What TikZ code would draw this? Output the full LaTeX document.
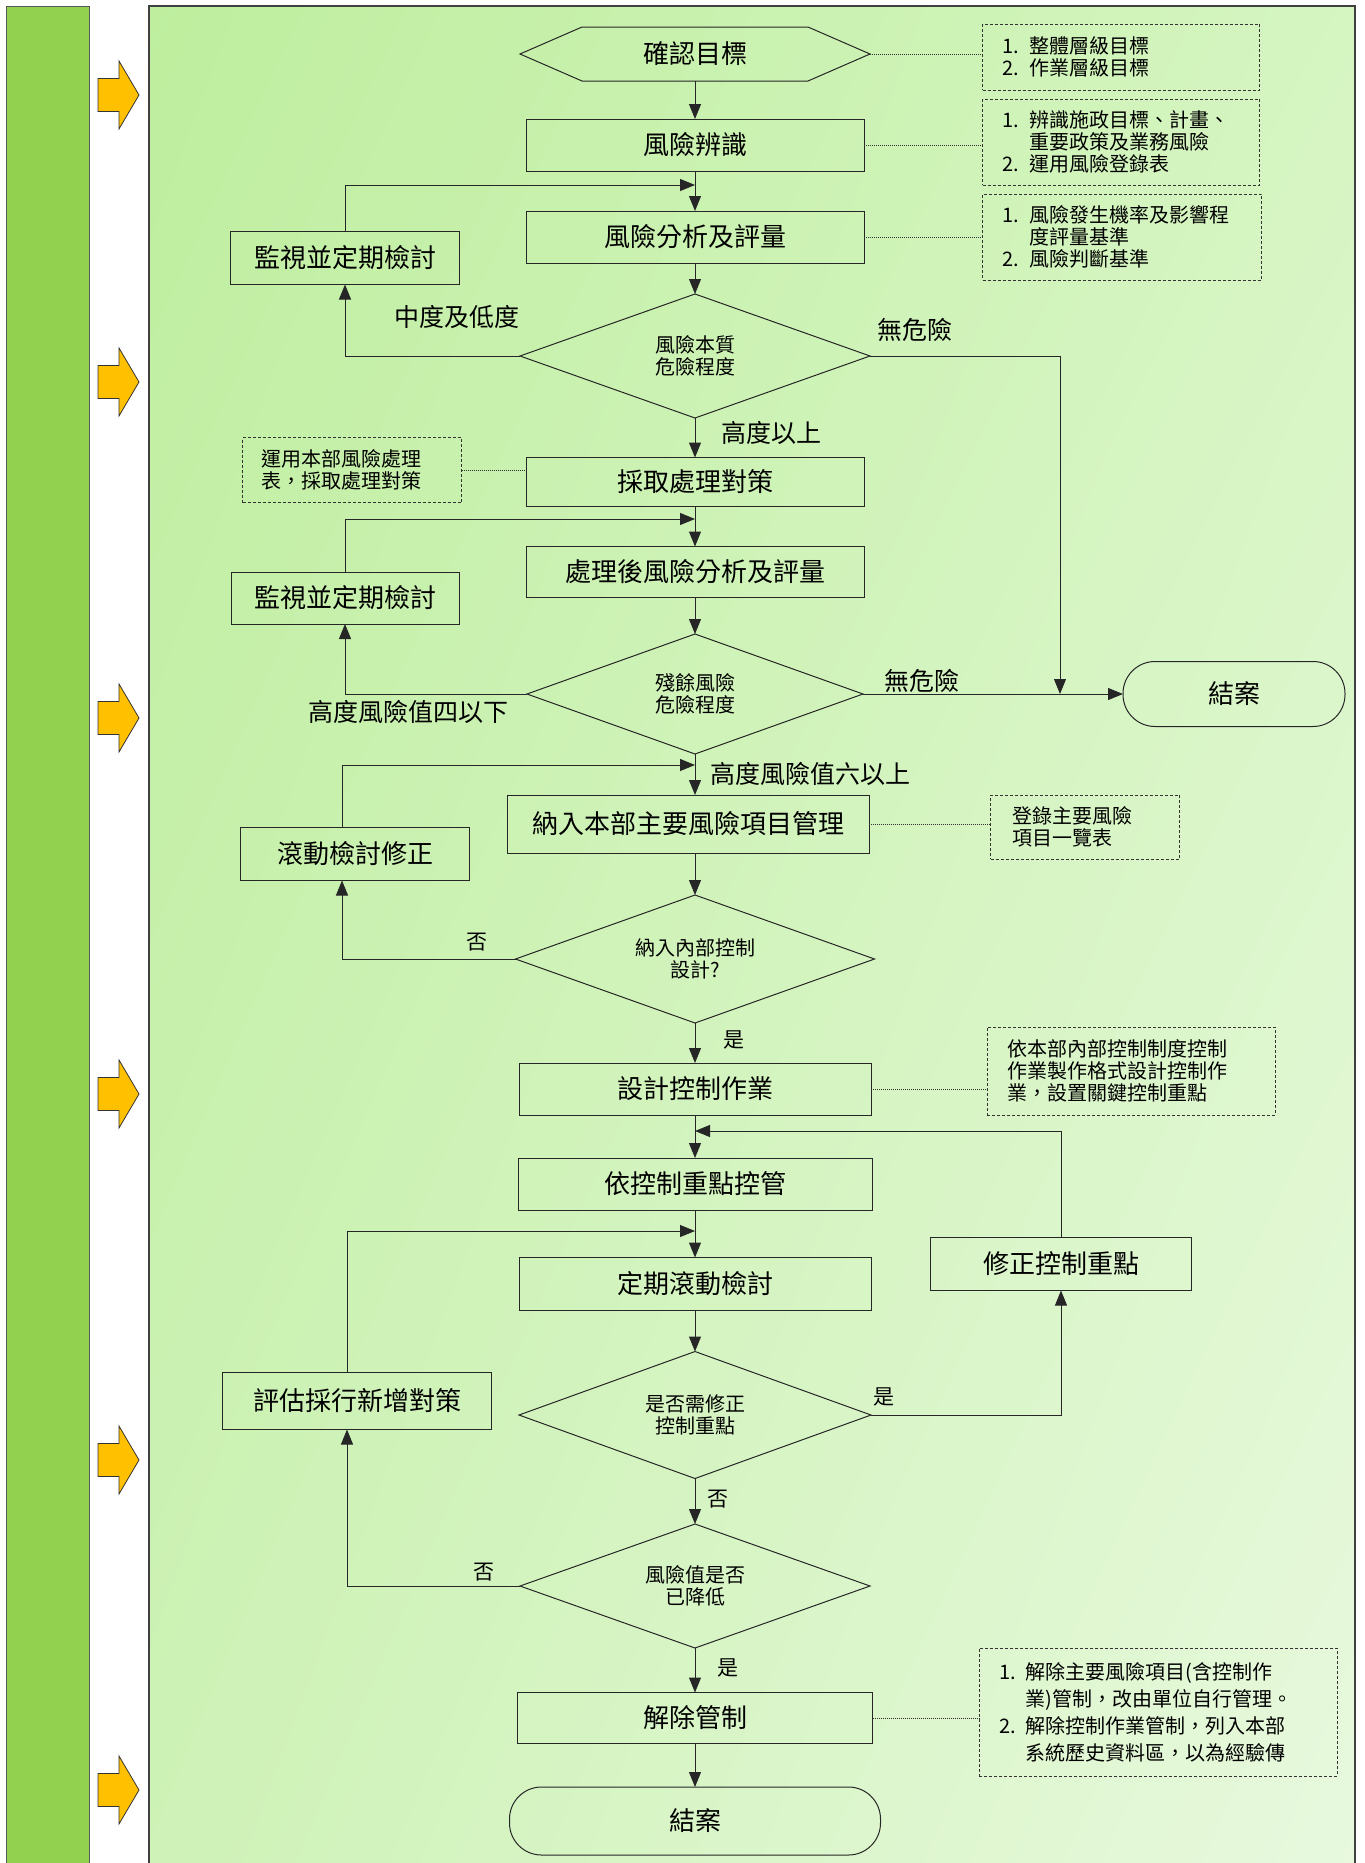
\documentclass[tikz,border=0pt]{standalone}
\usepackage{fontspec}
\setmainfont{Noto Sans CJK TC}
\usetikzlibrary{shapes.geometric}
\usetikzlibrary{arrows.meta}
\usetikzlibrary{shadings}
\usetikzlibrary{positioning}
\definecolor{bargreen}{RGB}{146,208,80}
\definecolor{arrowgold}{RGB}{255,192,0}
\definecolor{panelA}{RGB}{190,238,158}
\definecolor{panelB}{RGB}{213,245,193}
\definecolor{panelC}{RGB}{206,242,183}
\definecolor{panelD}{RGB}{232,249,222}

\begin{document}
\begin{tikzpicture}[x=1pt,y=-1pt,
        >={Triangle[length=15pt,width=12pt]},
        box/.style = {draw=black!85,line width=1pt,inner sep=0pt,outer sep=0pt,
            minimum width=338,minimum height=52,font=\fontsize{26}{30}\selectfont},
        hexa/.style = {inner sep=0pt,outer sep=0pt,minimum width=350,minimum height=54,
            font=\fontsize{26}{30}\selectfont},
        dia/.style = {draw=black!85,line width=1pt,diamond,aspect=2.8,inner sep=0pt,
            outer sep=0pt,align=center,font=\fontsize{20}{22}\selectfont},
        term/.style = {draw=black!85,line width=1pt,rounded corners=32pt,inner sep=0pt,
            outer sep=0pt,font=\fontsize{26}{30}\selectfont},
        note/.style = {draw=black!80,dash pattern=on 3pt off 2pt,line width=1pt,
            align=left,inner ysep=0pt,outer sep=0pt,font=\fontsize{20}{22}\selectfont},
        lab/.style = {inner sep=0pt,font=\fontsize{25}{28}\selectfont},
        yn/.style = {inner sep=0pt,font=\fontsize{21}{24}\selectfont},
        flow/.style = {->,draw=black!85,line width=1pt},
        link/.style = {draw=black!80,densely dotted,line width=1pt}]
    \useasboundingbox (0,0) rectangle (1365,1863);
    % background
    \begin{scope}
        \clip (0,0) rectangle (1365,1863);
        \fill[bargreen] (6,6) rectangle (89,1880);
        \draw[black!65,line width=1pt] (6,1880) -- (6,6) -- (89,6) -- (89,1880);
        \shade[upper left=panelA,upper right=panelB,lower left=panelC,lower right=panelD]
            (149,6) rectangle (1355,1880);
        \draw[black!75,line width=1.2pt] (149,1880) -- (149,6) -- (1355,6) -- (1355,1880);
    \end{scope}
    \foreach \c in {95,382,718,1094,1460,1790}
        \draw[black!80,fill=arrowgold,line width=0.8pt]
            (98,\c-16.5) -- (119,\c-16.5) -- (119,\c-34) -- (139,\c)
            -- (119,\c+34) -- (119,\c+16.5) -- (98,\c+16.5) -- cycle;

    % main column
    \node[hexa] (goal) at (695,54) {確認目標};
    \draw[draw=black!85,line width=1pt] (goal.west) -- ([xshift=62pt]goal.north west)
        -- ([xshift=-62pt]goal.north east) -- (goal.east)
        -- ([xshift=-62pt]goal.south east) -- ([xshift=62pt]goal.south west) -- cycle;
    \node[box] (ident) at (695,145) {風險辨識};
    \node[box] (anal) at (695,237) {風險分析及評量};
    \node[dia,minimum width=350,minimum height=124] (risk) at (695,356) {風險本質\\危險程度};
    \node[box,minimum height=49] (treat) at (695,482) {採取處理對策};
    \node[box,minimum height=51] (post) at (695,572) {處理後風險分析及評量};
    \node[dia,minimum width=336,minimum height=120] (resid) at (695,694) {殘餘風險\\危險程度};
    \node[box,minimum width=362,minimum height=58] (main) at (688,824) {納入本部主要風險項目管理};
    \node[dia,minimum width=359,minimum height=128] (ctrl) at (695,959) {納入內部控制\\設計?};
    \node[box,minimum width=352] (design) at (695,1089) {設計控制作業};
    \node[box,minimum width=354] (follow) at (695,1184) {依控制重點控管};
    \node[box,minimum width=352,minimum height=53] (review) at (695,1284) {定期滾動檢討};
    \node[dia,minimum width=352,minimum height=127] (need) at (695,1415) {是否需修正\\控制重點};
    \node[dia,minimum width=350,minimum height=124] (lower) at (695,1586) {風險值是否\\已降低};
    \node[box,minimum width=355,minimum height=51] (lift) at (695,1718) {解除管制};
    \node[term,minimum width=371,minimum height=68] (end2) at (695,1821) {結案};

    % side boxes
    \node[box,minimum width=229,minimum height=53] (mon1) at (345,258) {監視並定期檢討};
    \node[box,minimum width=228] (mon2) at (345,598) {監視並定期檢討};
    \node[box,minimum width=229,minimum height=53] (roll) at (355,854) {滾動檢討修正};
    \node[box,minimum width=261,minimum height=53] (fix) at (1061,1264) {修正控制重點};
    \node[box,minimum width=269,minimum height=57] (eval) at (357,1401) {評估採行新增對策};
    \node[term,minimum width=222,minimum height=65] (end1) at (1234,694) {結案};

    % notes
    \node[note,text width=237,inner xsep=20pt,minimum height=66] (n1) at (1121,57)
        {1. 整體層級目標\\2. 作業層級目標};
    \node[note,text width=237,inner xsep=20pt,minimum height=86] (n2) at (1121,142)
        {1. 辨識施政目標、計畫、\\\phantom{1. }重要政策及業務風險\\2. 運用風險登錄表};
    \node[note,text width=239,inner xsep=20pt,minimum height=86] (n3) at (1122,237)
        {1. 風險發生機率及影響程\\\phantom{1. }度評量基準\\2. 風險判斷基準};
    \node[note,text width=181,inner xsep=19pt,minimum height=65] (nL) at (352,470)
        {運用本部風險處理\\表，採取處理對策};
    \node[note,text width=145,inner xsep=22pt,minimum height=64] (n5) at (1085,827)
        {登錄主要風險\\項目一覽表};
    \node[note,text width=248,inner xsep=20pt,minimum height=88] (n6) at (1131,1071)
        {依本部內部控制制度控制\\作業製作格式設計控制作\\業，設置關鍵控制重點};
    \node[note,text width=318,inner xsep=20pt,minimum height=128,
        font=\fontsize{20}{27}\selectfont] (n9) at (1158,1712)
        {1. 解除主要風險項目(含控制作\\\phantom{1. }業)管制，改由單位自行管理。\\
         2. 解除控制作業管制，列入本部\\\phantom{2. }系統歷史資料區，以為經驗傳};

    % labels
    \node[lab] (lowmid) at (457,317) {中度及低度};
    \node[lab] (none1) at (915,330) {無危險};
    \node[lab] (high1) at (771,433) {高度以上};
    \node[lab] (low4) at (408,712) {高度風險值四以下};
    \node[lab] (none2) at (922,681) {無危險};
    \node[lab,anchor=west] (high6) at (710,774) {高度風險值六以上};
    \node[yn] (no1) at (477,942) {否};
    \node[yn] (yes1) at (734,1040) {是};
    \node[yn] (yes2) at (884,1397) {是};
    \node[yn] (no2) at (718,1499) {否};
    \node[yn] (no3) at (484,1572) {否};
    \node[yn] (yes3) at (728,1668) {是};

    % merge points
    \coordinate (m1) at (695,185);
    \coordinate (m2) at (695,519);
    \coordinate (m3) at (695,765);
    \coordinate (m4) at (695,1131);
    \coordinate (m5) at (695,1231);
    \coordinate (nr) at (1060,694);

    % flow
    \draw[flow] (goal.south) -- (ident.north);
    \draw[flow] (ident.south) -- (anal.north);
    \draw[flow] (anal.south) -- (risk.north);
    \draw[flow] (risk.south) -- (treat.north);
    \draw[flow] (treat.south) -- (post.north);
    \draw[flow] (post.south) -- (resid.north);
    \draw[flow] (resid.south) -- (resid.south |- main.north);
    \draw[flow] (resid.south |- main.south) -- (ctrl.north);
    \draw[flow] (ctrl.south) -- (design.north);
    \draw[flow] (design.south) -- (follow.north);
    \draw[flow] (follow.south) -- (review.north);
    \draw[flow] (review.south) -- (need.north);
    \draw[flow] (need.south) -- (lower.north);
    \draw[flow] (lower.south) -- (lift.north);
    \draw[flow] (lift.south) -- (end2.north);

    % branches and loops
    \draw[flow] (risk.west) -| (mon1.south);
    \draw[flow] (mon1.north) |- (m1);
    \draw[flow] (risk.east) -| (nr);
    \draw[flow] (resid.east) -- (end1.west);
    \draw[flow] (resid.west) -| (mon2.south);
    \draw[flow] (mon2.north) |- (m2);
    \draw[flow] (ctrl.west) -| ([xshift=-13pt]roll.south);
    \draw[flow] ([xshift=-13pt]roll.north) |- (m3);
    \draw[flow] (need.east) -| (fix.south);
    \draw[flow] (fix.north) |- (m4);
    \draw[flow] (lower.west) -| ([xshift=-10pt]eval.south);
    \draw[flow] ([xshift=-10pt]eval.north) |- (m5);

    % note links
    \draw[link] (goal.east) -- (goal.east -| n1.west);
    \draw[link] (ident.east) -- (ident.east -| n2.west);
    \draw[link] (anal.east) -- (anal.east -| n3.west);
    \draw[link] (nL.east) -- (nL.east -| treat.west);
    \draw[link] (main.east) -- (main.east -| n5.west);
    \draw[link] (design.east) -- (design.east -| n6.west);
    \draw[link] (lift.east) -- (lift.east -| n9.west);
\end{tikzpicture}
\end{document}
